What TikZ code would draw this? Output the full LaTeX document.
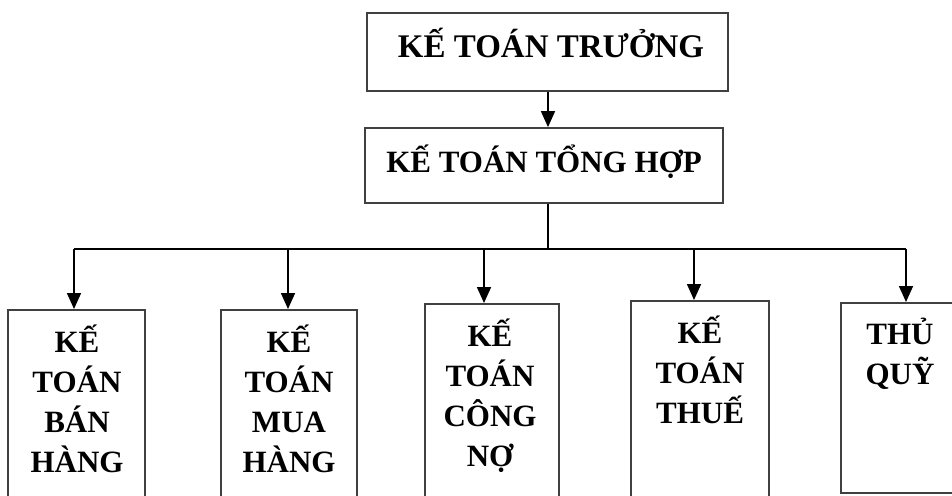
\documentclass[tikz,border=0pt]{standalone}
\usepackage{fontspec}
\setmainfont{Liberation Serif}
\usetikzlibrary{arrows.meta}
\tikzstyle{khung}=[draw=black!75,line width=0.9pt,inner sep=0pt]
\tikzstyle{chu}=[font=\bfseries\fontsize{15.5}{20}\selectfont,align=center,text width=66pt,inner sep=0pt,anchor=base]
\tikzstyle{mui} = [draw,line width=0.8pt,-{Triangle[width=7pt,length=8pt]}]
\tikzstyle{day} = [draw,line width=0.8pt]

\begin{document}
\begin{tikzpicture}[x=0.5pt,y=-0.5pt]
        \clip (0,0) rectangle (952,495);
        \fill[white] (0,0) rectangle (952,495);

        \node[khung,minimum width=180.5pt,minimum height=39pt] (truong) at (547.5,52) {};
        \node[font=\bfseries\fontsize{16.5}{20}\selectfont,anchor=base] (ttruong) at (551,57) {KẾ TOÁN TRƯỞNG};
        \node[khung,minimum width=179pt,minimum height=37.5pt] (tonghop) at (544,165.5) {};
        \node[font=\bfseries\fontsize{15.5}{20}\selectfont,anchor=base] (ttonghop) at (544,172) {KẾ TOÁN TỔNG HỢP};

        \node[khung,anchor=north,minimum width=68.5pt,minimum height=106pt] (banhang) at (76.5,309) {};
        \node[khung,anchor=north,minimum width=68pt,minimum height=106pt] (muahang) at (289,309) {};
        \node[khung,anchor=north,minimum width=67pt,minimum height=110pt] (congno) at (492,303) {};
        \node[khung,anchor=north,minimum width=69pt,minimum height=112pt] (thue) at (700,300) {};
        \node[khung,anchor=north,minimum width=62pt,minimum height=95pt] (thuquy) at (903,302) {};

        \node[chu] (tbanhang) at (77,352) {KẾ\\TOÁN\\BÁN\\HÀNG};
        \node[chu] (tmuahang) at (289,352) {KẾ\\TOÁN\\MUA\\HÀNG};
        \node[chu] (tcongno) at (490,346) {KẾ\\TOÁN\\CÔNG\\NỢ};
        \node[chu] (tthue) at (700,343) {KẾ\\TOÁN\\THUẾ};
        \node[chu] (tthuquy) at (900,344) {THỦ\\QUỸ};

        \coordinate (giua) at (548,249);
        \coordinate (r1) at (74,249);
        \coordinate (r2) at (288,249);
        \coordinate (r3) at (484,249);
        \coordinate (r4) at (694,249);
        \coordinate (r5) at (906,249);

        \draw[mui] (giua |- truong.south) to (giua |- tonghop.north);
        \draw[day] (giua |- tonghop.south) to (giua);
        \draw[day] (r1) to (r5);
        \draw[mui] (r1) to (r1 |- banhang.north);
        \draw[mui] (r2) to (r2 |- muahang.north);
        \draw[mui] (r3) to (r3 |- congno.north);
        \draw[mui] (r4) to (r4 |- thue.north);
        \draw[mui] (r5) to (r5 |- thuquy.north);

      \end{tikzpicture}
\end{document}
